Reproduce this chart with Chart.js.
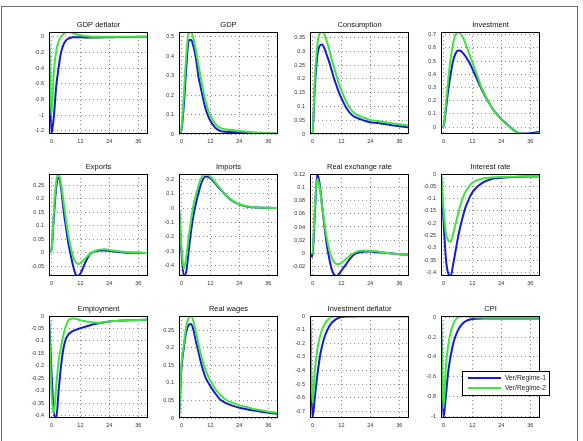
<!DOCTYPE html>
<html>
<head>
<meta charset="utf-8">
<script src="https://cdn.jsdelivr.net/npm/chart.js@4.4.1/dist/chart.umd.min.js"></script>
<style>
body{margin:0;background:#fff;width:583px;height:441px;overflow:hidden;position:relative}
#frame{position:absolute;left:1px;top:6px;width:575px;height:445px;border:1px solid #6e6e6e}
.panel{position:absolute}
</style>
</head>
<body>
<div id="frame"></div>
<script>
// horizon (quarters), first point is the pre-shock zero
var T = [-1,0,1,2,3,4,5,6,7,8,9,10,11,12,14,16,18,20,22,24,27,30,33,36,40];
var xTicks = [0,12,24,36];
var seriesNames = ['Ver/Regime-1','Ver/Regime-2'];
var titles = ['GDP deflator','GDP','Consumption','Investment','Exports','Imports',
              'Real exchange rate','Interest rate','Employment','Real wages','Investment deflator','CPI'];

// Regime 1 (blue)
var gdpDefl1 = [0,-1.24,-1.02,-0.63,-0.39,-0.2,-0.1,-0.05,-0.025,-0.013,-0.008,-0.006,-0.006,-0.007,-0.009,-0.01,-0.01,-0.009,-0.008,-0.007,-0.005,-0.004,-0.003,-0.002,-0.001];
var gdp1 = [0,0.02,0.15,0.34,0.48,0.485,0.45,0.39,0.3,0.24,0.18,0.13,0.095,0.068,0.032,0.016,0.011,0.01,0.009,0.008,0.006,0.004,0.003,0.002,0.001];
var cons1 = [0,0,0.17,0.28,0.32,0.325,0.31,0.285,0.26,0.23,0.2,0.175,0.15,0.13,0.095,0.072,0.06,0.053,0.047,0.043,0.04,0.036,0.032,0.028,0.024];
var inv1 = [0,0,0.13,0.28,0.4,0.5,0.555,0.58,0.578,0.562,0.54,0.51,0.48,0.44,0.36,0.28,0.21,0.15,0.1,0.06,0.01,-0.035,-0.05,-0.048,-0.035];
var exp1 = [0,0.01,0.13,0.245,0.278,0.24,0.16,0.095,0.035,-0.01,-0.05,-0.08,-0.087,-0.078,-0.038,-0.006,0.004,0.008,0.008,0.006,0.003,0,-0.001,-0.001,-0.002];
var imp1 = [0,-0.3,-0.47,-0.44,-0.3,-0.16,-0.05,0.03,0.1,0.16,0.2,0.218,0.215,0.205,0.17,0.13,0.095,0.063,0.04,0.024,0.011,0.005,0.002,0.001,0];
var rer1 = [0,-0.005,0.06,0.12,0.105,0.072,0.04,0.012,-0.008,-0.024,-0.032,-0.034,-0.031,-0.026,-0.016,-0.006,0,0.002,0.003,0.003,0.002,0.001,0,-0.001,-0.002];
var rate1 = [0,-0.18,-0.34,-0.405,-0.415,-0.37,-0.315,-0.26,-0.215,-0.175,-0.14,-0.115,-0.092,-0.075,-0.052,-0.037,-0.027,-0.02,-0.017,-0.015,-0.013,-0.012,-0.011,-0.01,-0.01];
var emp1 = [0,-0.22,-0.385,-0.41,-0.3,-0.2,-0.13,-0.092,-0.075,-0.066,-0.06,-0.056,-0.052,-0.049,-0.043,-0.037,-0.032,-0.028,-0.025,-0.022,-0.02,-0.018,-0.017,-0.016,-0.014];
var wage1 = [0,0.14,0.2,0.245,0.264,0.267,0.25,0.218,0.19,0.16,0.135,0.115,0.102,0.09,0.07,0.053,0.044,0.038,0.033,0.029,0.025,0.021,0.018,0.015,0.012];
var invDefl1 = [0,-0.75,-0.6,-0.44,-0.31,-0.22,-0.155,-0.11,-0.075,-0.05,-0.033,-0.02,-0.012,-0.007,-0.003,-0.002,-0.002,-0.001,-0.001,-0.001,-0.001,-0.001,0,0,0];
var cpi1 = [0,-1.02,-0.8,-0.55,-0.39,-0.27,-0.19,-0.13,-0.09,-0.06,-0.04,-0.027,-0.019,-0.014,-0.011,-0.01,-0.01,-0.01,-0.01,-0.01,-0.01,-0.01,-0.01,-0.01,-0.01];

// Regime 2 (green)
var gdpDefl2 = [0,-1.0,-0.45,-0.18,-0.06,0,0.035,0.055,0.06,0.055,0.045,0.035,0.025,0.018,0.008,0.002,-0.001,-0.002,-0.002,-0.002,-0.001,-0.001,0,0,0];
var gdp2 = [0,0.03,0.2,0.4,0.52,0.525,0.49,0.43,0.36,0.29,0.225,0.17,0.125,0.095,0.052,0.032,0.024,0.021,0.019,0.016,0.012,0.009,0.006,0.004,0.002];
var cons2 = [0,0,0.2,0.32,0.365,0.37,0.36,0.335,0.305,0.27,0.24,0.21,0.182,0.158,0.117,0.088,0.072,0.063,0.057,0.051,0.047,0.043,0.039,0.035,0.03];
var inv2 = [0,0,0.17,0.36,0.52,0.63,0.7,0.72,0.71,0.68,0.64,0.59,0.54,0.49,0.39,0.29,0.215,0.15,0.098,0.056,0.005,-0.035,-0.052,-0.053,-0.045];
var exp2 = [0,0.01,0.15,0.265,0.292,0.255,0.19,0.125,0.065,0.02,-0.015,-0.035,-0.042,-0.04,-0.022,-0.004,0.006,0.011,0.012,0.01,0.006,0.003,0.001,0,-0.002];
var imp2 = [0,-0.28,-0.42,-0.34,-0.2,-0.08,0.02,0.09,0.15,0.2,0.228,0.235,0.23,0.215,0.178,0.135,0.098,0.066,0.042,0.026,0.012,0.005,0.002,0.001,0];
var rer2 = [0,0,0.07,0.113,0.1,0.072,0.045,0.022,0.005,-0.006,-0.013,-0.016,-0.016,-0.014,-0.008,-0.002,0.002,0.004,0.004,0.004,0.003,0.001,0,-0.001,-0.002];
var rate2 = [0,-0.14,-0.24,-0.27,-0.275,-0.245,-0.205,-0.165,-0.128,-0.098,-0.075,-0.058,-0.045,-0.036,-0.025,-0.019,-0.016,-0.014,-0.013,-0.012,-0.011,-0.011,-0.01,-0.01,-0.01];
var emp2 = [0,-0.3,-0.39,-0.28,-0.18,-0.125,-0.075,-0.04,-0.018,-0.011,-0.01,-0.011,-0.014,-0.017,-0.021,-0.024,-0.026,-0.027,-0.025,-0.022,-0.02,-0.018,-0.017,-0.016,-0.014];
var wage2 = [0,0.15,0.21,0.26,0.285,0.29,0.275,0.245,0.212,0.182,0.157,0.137,0.12,0.106,0.083,0.066,0.054,0.046,0.041,0.036,0.031,0.026,0.022,0.018,0.015];
var invDefl2 = [0,-0.64,-0.4,-0.25,-0.16,-0.1,-0.06,-0.034,-0.017,-0.007,-0.002,0,0.001,0.001,0.001,0,0,0,0,0,0,0,0,0,0];
var cpi2 = [0,-0.92,-0.5,-0.28,-0.15,-0.07,-0.025,0,0.012,0.016,0.015,0.012,0.009,0.006,0.002,0,-0.002,-0.003,-0.003,-0.003,-0.003,-0.003,-0.003,-0.003,-0.003];

// y tick labels of every panel
var yTicksGdpDefl = [-1.2,-1,-0.8,-0.6,-0.4,-0.2,0];
var yTicksGdp = [0,0.1,0.2,0.3,0.4,0.5];
var yTicksCons = [0,0.05,0.1,0.15,0.2,0.25,0.3,0.35];
var yTicksInv = [0,0.1,0.2,0.3,0.4,0.5,0.6,0.7];
var yTicksExp = [-0.05,0,0.05,0.1,0.15,0.2,0.25];
var yTicksImp = [-0.4,-0.3,-0.2,-0.1,0,0.1,0.2];
var yTicksRer = [-0.02,0,0.02,0.04,0.06,0.08,0.1,0.12];
var yTicksRate = [-0.4,-0.35,-0.3,-0.25,-0.2,-0.15,-0.1,-0.05,0];
var yTicksEmp = [-0.4,-0.35,-0.3,-0.25,-0.2,-0.15,-0.1,-0.05,0];
var yTicksWage = [0,0.05,0.1,0.15,0.2,0.25];
var yTicksInvDefl = [-0.7,-0.6,-0.5,-0.4,-0.3,-0.2,-0.1,0];
var yTicksCpi = [-1,-0.8,-0.6,-0.4,-0.2,0];

var panels = [
  [gdpDefl1, gdpDefl2, yTicksGdpDefl], [gdp1, gdp2, yTicksGdp], [cons1, cons2, yTicksCons], [inv1, inv2, yTicksInv],
  [exp1, exp2, yTicksExp], [imp1, imp2, yTicksImp], [rer1, rer2, yTicksRer], [rate1, rate2, yTicksRate],
  [emp1, emp2, yTicksEmp], [wage1, wage2, yTicksWage], [invDefl1, invDefl2, yTicksInvDefl], [cpi1, cpi2, yTicksCpi]
];

// layout: an empty right axis as wide as the left one keeps the title centred over the box
var colLeft = [49,179,310,441];
var rowTop = [32,174,316];
var plotW = 99, plotH = 102, axisW = 34, titleH = 12, axisH = 16;
var blue = 'rgb(22,28,205)', green = 'rgb(64,228,64)';
var gridColor = 'rgba(0,0,0,0.45)';

Chart.defaults.font.family = '"Liberation Sans", Arial, sans-serif';

var boxPlugin = {
  id: 'box',
  afterDatasetsDraw: function(chart){
    var a = chart.chartArea, c = chart.ctx;
    c.save();
    c.strokeStyle = '#000';
    c.lineWidth = 1;
    c.strokeRect(Math.round(a.left)+0.5, Math.round(a.top)+0.5, Math.round(a.right-a.left)-1, Math.round(a.bottom-a.top)-1);
    c.restore();
  }
};

var legendPlugin = {
  id: 'regLegend',
  afterDraw: function(chart){
    var a = chart.chartArea, c = chart.ctx;
    var x = Math.round(a.left)+21, y = Math.round(a.top)+55, w = 87, h = 24;
    c.save();
    c.fillStyle = '#fff';
    c.fillRect(x, y, w, h);
    c.strokeStyle = '#000';
    c.lineWidth = 1;
    c.strokeRect(x+0.5, y+0.5, w, h);
    c.font = '6.7px "Liberation Sans", Arial, sans-serif';
    c.textBaseline = 'middle';
    chart.data.datasets.forEach(function(ds, i){
      var ly = y + 7 + i*10;
      c.strokeStyle = ds.borderColor;
      c.lineWidth = 2;
      c.beginPath(); c.moveTo(x+6, ly); c.lineTo(x+39, ly); c.stroke();
      c.fillStyle = '#222';
      c.fillText(ds.label, x+43, ly);
    });
    c.restore();
  }
};

function pts(vals){
  return T.map(function(t, i){ return {x: t, y: vals[i]}; });
}

panels.forEach(function(p, i){
  var r1 = p[0], r2 = p[1], yt = p[2];
  var ymin = Math.min.apply(null, r1.concat(r2));
  var ymax = Math.max.apply(null, r1.concat(r2));
  var col = i % 4, row = Math.floor(i / 4);
  var div = document.createElement('div');
  div.className = 'panel';
  div.style.left = (colLeft[col] - axisW) + 'px';
  div.style.top = (rowTop[row] - titleH) + 'px';
  var cv = document.createElement('canvas');
  cv.width = axisW + plotW + axisW;
  cv.height = titleH + plotH + axisH;
  cv.style.width = cv.width + 'px';
  cv.style.height = cv.height + 'px';
  div.appendChild(cv);
  document.body.appendChild(div);

  var plugins = [boxPlugin];
  if (i === 11) plugins.push(legendPlugin);

  new Chart(cv, {
    type: 'line',
    data: {
      datasets: [
        {label: seriesNames[0], data: pts(r1), borderColor: blue, borderWidth: 2, pointRadius: 0, cubicInterpolationMode: 'monotone', order: 1},
        {label: seriesNames[1], data: pts(r2), borderColor: green, borderWidth: 2, pointRadius: 0, cubicInterpolationMode: 'monotone', order: 0}
      ]
    },
    options: {
      responsive: false,
      animation: false,
      events: [],
      layout: {padding: 0},
      plugins: {
        legend: {display: false},
        tooltip: {enabled: false},
        title: {display: true, text: titles[i], color: '#111', font: {size: 7.5, weight: 'normal'}, padding: {top: 0, bottom: 3}}
      },
      scales: {
        x: {
          type: 'linear', min: -1, max: 40,
          grid: {color: gridColor, lineWidth: 1, drawTicks: false},
          border: {display: false, dash: [1,3]},
          ticks: {font: {size: 5.5}, color: '#333', padding: 4, maxRotation: 0, autoSkip: false,
                  callback: function(v){ return String(v); }},
          afterBuildTicks: function(s){ s.ticks = xTicks.map(function(v){ return {value: v}; }); },
          afterFit: function(s){ s.height = axisH; }
        },
        y: {
          type: 'linear', min: ymin, max: ymax,
          grid: {color: gridColor, lineWidth: 1, drawTicks: false},
          border: {display: false, dash: [1,3]},
          ticks: {font: {size: 5.5}, color: '#333', padding: 5, autoSkip: false,
                  callback: function(v){ return String(v); }},
          afterBuildTicks: function(s){
            s.ticks = yt.filter(function(v){ return v >= ymin - 1e-9 && v <= ymax + 1e-9; })
                        .map(function(v){ return {value: v}; });
          },
          afterFit: function(s){ s.width = axisW; }
        },
        yPad: {
          type: 'linear', position: 'right', display: true,
          grid: {display: false},
          border: {display: false},
          ticks: {display: false},
          afterFit: function(s){ s.width = axisW; }
        }
      }
    },
    plugins: plugins
  });
});
</script>
</body>
</html>
